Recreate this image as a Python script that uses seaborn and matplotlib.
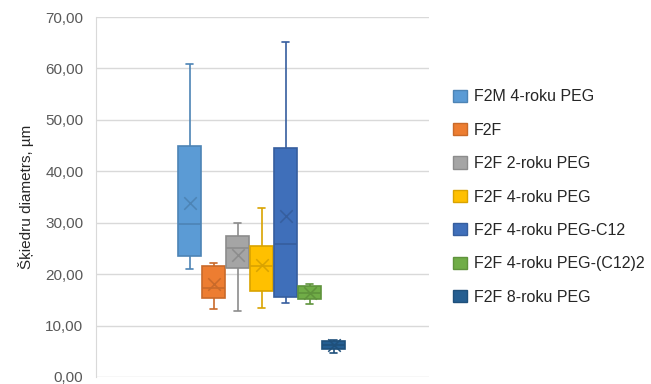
import numpy as np
import pandas as pd
import matplotlib
matplotlib.use("Agg")
import matplotlib.pyplot as plt
import matplotlib.colors as mcolors
from matplotlib.patches import Patch
from matplotlib.ticker import FuncFormatter
import seaborn as sns

# === Data ===
groups = ["F2M 4-roku PEG", "F2F", "F2F 2-roku PEG", "F2F 4-roku PEG",
          "F2F 4-roku PEG-C12", "F2F 4-roku PEG-(C12)2", "F2F 8-roku PEG"]
mins = [21.0, 13.3, 12.9, 13.5, 14.3, 14.2, 4.7]
q1s = [23.5, 15.4, 21.1, 16.8, 15.6, 15.1, 5.4]
medians = [29.7, 17.3, 25.0, 21.6, 25.9, 16.3, 6.2]
q3s = [44.9, 21.5, 27.5, 25.4, 44.5, 17.6, 7.0]
maxs = [60.9, 22.2, 30.0, 32.9, 65.2, 18.1, 7.2]
means = [33.9, 18.1, 23.7, 21.8, 31.3, 16.3, 6.2]

fills = ["#5B9BD5", "#ED7D31", "#A5A5A5", "#FFC000", "#3F6FBA", "#70AD47", "#255E91"]


def darker(c, f=0.85):
    r, g, b = mcolors.to_rgb(c)
    return (r * f, g * f, b * f)


edges = [darker(c) for c in fills]

# five-number summary per group as long table
rows = []
for g, a, b, m, c, d in zip(groups, mins, q1s, medians, q3s, maxs):
    for v in (a, b, m, c, d):
        rows.append({"group": g, "value": v})
df = pd.DataFrame(rows)
df_mean = pd.DataFrame({"group": groups, "mean": means})

sns.set_style("white")
plt.rcParams["font.family"] = ["Liberation Sans", "DejaVu Sans"]

fig = plt.figure(figsize=(6.51, 3.84), dpi=100)
ax = fig.add_axes([96 / 651, 1 - 377 / 384, (429 - 96) / 651, (377 - 17) / 384])

sns.boxplot(data=df, x="group", y="value", hue="group", order=groups,
            hue_order=groups, palette=fills, saturation=1, whis=(0, 100),
            width=0.95, linewidth=1.2, legend=False, ax=ax)

# per-box edge colours and narrow caps, like Excel
for i, cont in enumerate(ax.containers):
    for p in cont.boxes:
        p.set_edgecolor(edges[i])
        p.set_linewidth(1.2)
    for ln in list(cont.whiskers) + list(cont.medians):
        ln.set_color(edges[i])
        ln.set_linewidth(1.2)
    for ln in cont.caps:
        ln.set_color(edges[i])
        ln.set_linewidth(1.2)
        x = ln.get_xdata()
        cx = (x[0] + x[1]) / 2
        ln.set_xdata([cx - 0.13, cx + 0.13])

# mean markers
sns.stripplot(data=df_mean, x="group", y="mean", hue="group", order=groups,
              hue_order=groups, palette=edges, marker="x", jitter=False,
              size=9, linewidth=1.1, legend=False, zorder=5, ax=ax)

ax.set_xlim(-3.9, 9.98)
ax.set_ylim(0, 70)
ax.set_yticks(np.arange(0, 71, 10))
ax.yaxis.set_major_formatter(FuncFormatter(lambda v, p: f"{v:.2f}".replace(".", ",")))
ax.set_xticks([])
ax.set_xlabel("")
ax.set_ylabel("Šķiedru diametrs, µm", fontsize=11, color="#262626", labelpad=8)
ax.tick_params(axis="y", labelsize=11, colors="#595959", length=0, pad=9)
ax.grid(axis="y", color="#D9D9D9", linewidth=1)
ax.set_axisbelow(True)
for s in ["top", "right", "bottom"]:
    ax.spines[s].set_visible(False)
ax.spines["left"].set_color("#D9D9D9")

handles = [Patch(facecolor=f, edgecolor=e, linewidth=1) for f, e in zip(fills, edges)]
fig.legend(handles, groups, loc="center left", bbox_to_anchor=(453 / 651, 1 - 197 / 384),
           frameon=False, fontsize=11.5, handlelength=0.85, handleheight=0.8,
           handletextpad=0.45, labelspacing=1.15, borderpad=0, borderaxespad=0,
           labelcolor="#262626")

fig.savefig("out.png", dpi=100)
